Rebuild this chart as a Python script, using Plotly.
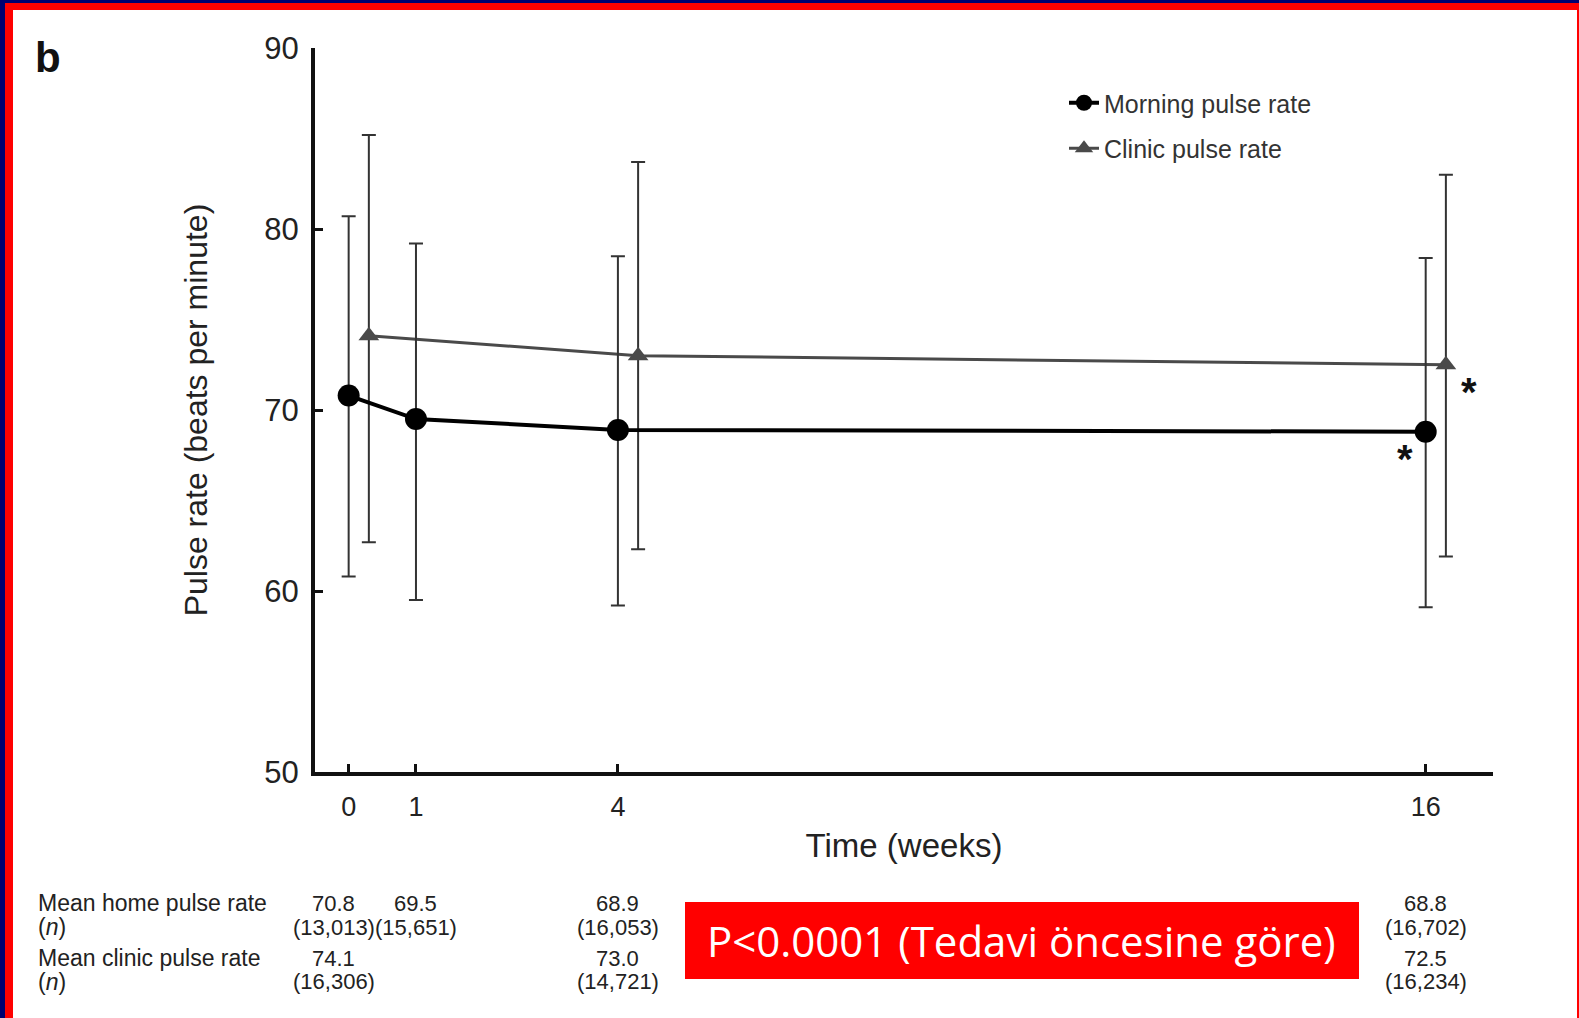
import plotly.graph_objects as go

# ---------------- data ----------------
weeks_morning = [0, 1, 4, 16]
morning_mean = [70.8, 69.5, 68.9, 68.8]
morning_upper = [80.7, 79.2, 78.5, 78.4]
morning_lower = [60.8, 59.5, 59.2, 59.1]

weeks_clinic = [0.3, 4.3, 16.3]
clinic_mean = [74.1, 73.0, 72.5]
clinic_upper = [85.2, 83.7, 83.0]
clinic_lower = [62.7, 62.3, 61.9]

x_ticks = [0, 1, 4, 16]
y_ticks = [50, 60, 70, 80, 90]

table_weeks = [0, 1, 4, 16]
home_mean_txt = ["70.8", "69.5", "68.9", "68.8"]
home_n_txt = ["(13,013)", "(15,651)", "(16,053)", "(16,702)"]
clinic_weeks_tbl = [0, 4, 16]
clinic_mean_txt = ["74.1", "73.0", "72.5"]
clinic_n_txt = ["(16,306)", "(14,721)", "(16,234)"]

star_points = [(15.7, 67.3), (16.65, 71.0)]

# ---------------- layout geometry ----------------
W, H = 1579, 1018
L, R, T, B = 315, 86, 48, 246
PW, PH = W - L - R, H - T - B


def px(xp):
    return (xp - L) / PW


def py(yp):
    return (H - B - yp) / PH


FONT = "Liberation Sans, Arial, sans-serif"

fig = go.Figure()

fig.add_trace(go.Scatter(
    x=weeks_clinic, y=clinic_mean, mode="lines+markers",
    name="Clinic pulse rate", legendgroup="c", legendrank=2,
    line=dict(color="#4a4a4a", width=3),
    marker=dict(symbol="triangle-up", size=18, color="#4a4a4a"),
    error_y=dict(type="data", symmetric=False,
                 array=[u - m for u, m in zip(clinic_upper, clinic_mean)],
                 arrayminus=[m - l for l, m in zip(clinic_lower, clinic_mean)],
                 color="#333333", thickness=2, width=7),
))
fig.add_trace(go.Scatter(
    x=weeks_morning, y=morning_mean, mode="lines+markers",
    name="Morning pulse rate", legendgroup="m", legendrank=1,
    line=dict(color="#000000", width=4),
    marker=dict(symbol="circle", size=22, color="#000000"),
    error_y=dict(type="data", symmetric=False,
                 array=[u - m for u, m in zip(morning_upper, morning_mean)],
                 arrayminus=[m - l for l, m in zip(morning_lower, morning_mean)],
                 color="#333333", thickness=2, width=7),
))

annotations = []
# asterisks
for sx, sy in star_points:
    annotations.append(dict(x=sx, y=sy, xref="x", yref="y", text="<b>*</b>",
                            showarrow=False, yanchor="middle", xanchor="center",
                            font=dict(family=FONT, size=40, color="#111")))

# panel label
annotations.append(dict(x=px(48), y=py(57), xref="paper", yref="paper", text="<b>b</b>",
                        showarrow=False, xanchor="center", yanchor="middle",
                        font=dict(family=FONT, size=42, color="#111")))

# table labels
row_y = [903, 927, 958, 982]
row_labels = ["Mean home pulse rate", "(<i>n</i>)", "Mean clinic pulse rate", "(<i>n</i>)"]
for lbl, ry in zip(row_labels, row_y):
    annotations.append(dict(x=px(36), y=py(ry), xref="paper", yref="paper", text=lbl,
                            xanchor="left", yanchor="middle", showarrow=False,
                            font=dict(family=FONT, size=23, color="#222")))


def col(xw, ry, txt):
    return dict(x=xw, y=py(ry), xref="x", yref="paper", text=txt, showarrow=False,
                xanchor="center", yanchor="middle", xshift=-15 if xw == 0 else 0,
                font=dict(family=FONT, size=22, color="#222"))


for xw, mt, nt in zip(table_weeks, home_mean_txt, home_n_txt):
    annotations.append(col(xw, row_y[0], mt))
    annotations.append(col(xw, row_y[1], nt))
for xw, mt, nt in zip(clinic_weeks_tbl, clinic_mean_txt, clinic_n_txt):
    annotations.append(col(xw, row_y[2], mt))
    annotations.append(col(xw, row_y[3], nt))

# red p-value box text
annotations.append(dict(x=px(1022), y=py(940), xref="paper", yref="paper",
                        text="P<0.0001 (Tedavi öncesine göre)", showarrow=False,
                        xanchor="center", yanchor="middle",
                        font=dict(family="Open Sans, Noto Sans, sans-serif", size=42, color="white")))

shapes = [
    # frame
    dict(type="rect", xref="paper", yref="paper", x0=px(0), x1=px(5), y0=py(0), y1=py(H),
         fillcolor="#000070", line=dict(width=0), layer="above"),
    dict(type="rect", xref="paper", yref="paper", x0=px(0), x1=px(W), y0=py(0), y1=py(3),
         fillcolor="#000070", line=dict(width=0), layer="above"),
    dict(type="rect", xref="paper", yref="paper", x0=px(5), x1=px(13), y0=py(3), y1=py(H),
         fillcolor="#ff0000", line=dict(width=0), layer="above"),
    dict(type="rect", xref="paper", yref="paper", x0=px(5), x1=px(W), y0=py(3), y1=py(10),
         fillcolor="#ff0000", line=dict(width=0), layer="above"),
    dict(type="rect", xref="paper", yref="paper", x0=px(1577), x1=px(W), y0=py(10), y1=py(H),
         fillcolor="#ff0000", line=dict(width=0), layer="above"),
    # red p-value box
    dict(type="rect", xref="paper", yref="paper", x0=px(685), x1=px(1359), y0=py(902), y1=py(979),
         fillcolor="#ff0000", line=dict(width=0), layer="below"),
]

fig.update_layout(
    width=W, height=H,
    margin=dict(l=L, r=R, t=T, b=B, pad=0),
    paper_bgcolor="white", plot_bgcolor="white",
    font=dict(family=FONT, color="#222"),
    xaxis=dict(range=[-0.5, 17.0], tickvals=x_ticks, ticktext=[str(v) for v in x_ticks],
               ticks="inside", ticklen=8, tickwidth=3, tickcolor="#111",
               showline=True, linecolor="#111", linewidth=4, showgrid=False, zeroline=False,
               ticklabelstandoff=8,
               tickfont=dict(size=27, color="#222"),
               title=dict(text="Time (weeks)", font=dict(size=33, color="#222"), standoff=13)),
    yaxis=dict(range=[50, 90], tickvals=y_ticks,
               ticks="inside", ticklen=8, tickwidth=3, tickcolor="#111",
               showline=True, linecolor="#111", linewidth=4, showgrid=False, zeroline=False,
               ticklabelstandoff=6,
               tickfont=dict(size=31, color="#222"),
               title=dict(text="Pulse rate (beats per minute)", font=dict(size=32, color="#222"),
                          standoff=48)),
    legend=dict(x=px(1064), y=py(80), xanchor="left", yanchor="top",
                font=dict(size=25, color="#333"), traceorder="grouped",
                tracegroupgap=10, bgcolor="rgba(0,0,0,0)"),
    annotations=annotations,
    shapes=shapes,
)

fig.write_html("out.html")
